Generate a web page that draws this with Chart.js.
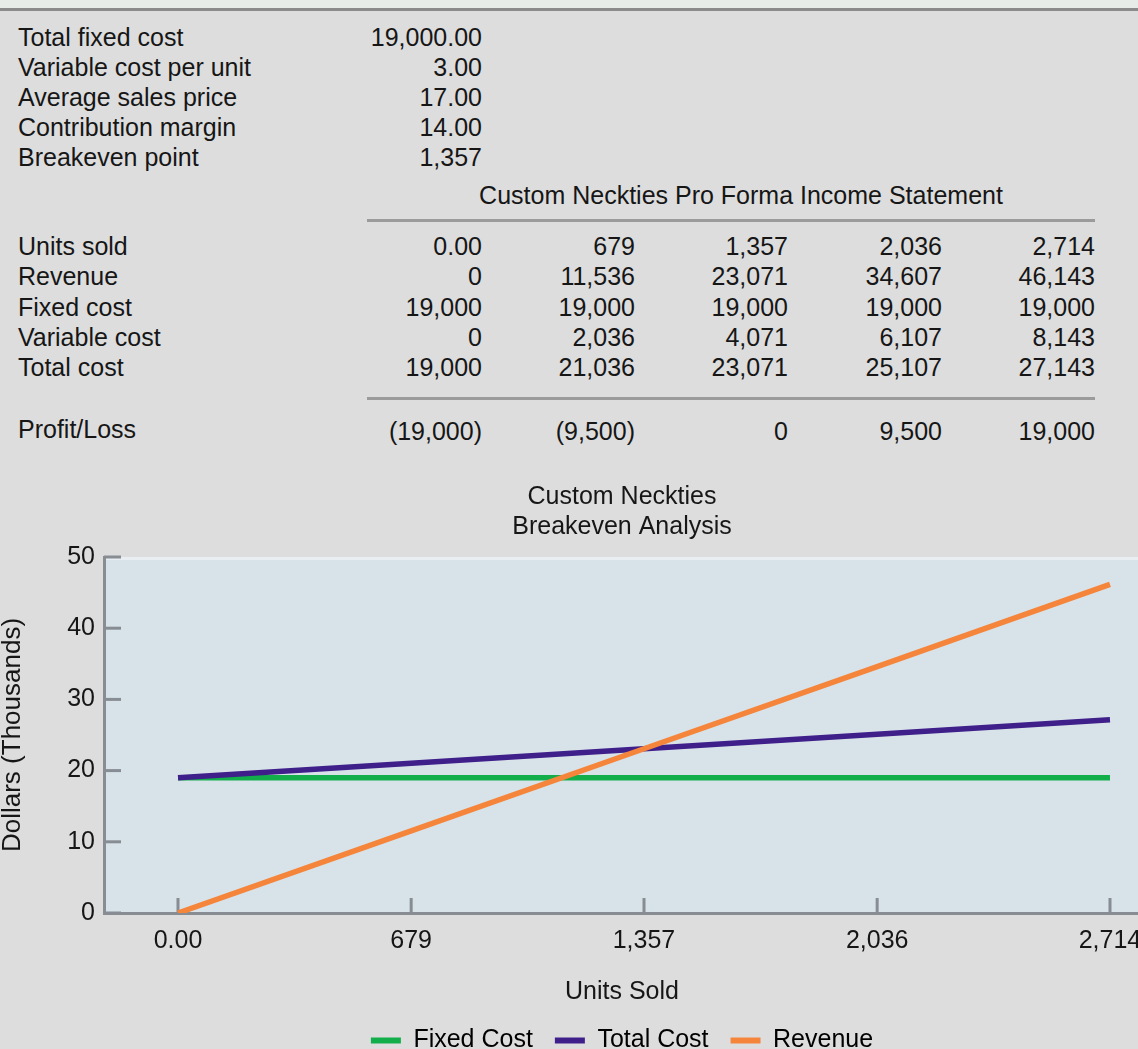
<!DOCTYPE html>
<html>
<head>
<meta charset="utf-8">
<title>Custom Neckties Breakeven Analysis</title>
<script src="https://cdn.jsdelivr.net/npm/chart.js@4/dist/chart.umd.min.js"></script>
<style>
  html, body { margin: 0; padding: 0; background: #dddddd; width: 1138px; height: 1049px; overflow: hidden; }
  #page { position: relative; width: 1138px; height: 1049px; font-family: "Liberation Sans", Arial, sans-serif; font-size: 25px; color: #161616; }
  #topband { position: absolute; left: 0; top: 0; width: 1138px; height: 8px; background: #e8ece8; }
  #topline { position: absolute; left: 0; top: 8px; width: 1138px; height: 3px; background: #8b8b8b; }
  .cell { position: absolute; white-space: nowrap; line-height: 30px; height: 30px; }
  .rule { position: absolute; height: 3px; background: #9b9b9b; }
  #chart { position: absolute; left: 0; top: 465px; }
</style>
</head>
<body>
<div id="page">
  <div id="topband"></div>
  <div id="topline"></div>
  <canvas id="chart" width="1240" height="598"></canvas>
</div>
<script>
// ---- Inputs ----
const inputLabels = ["Total fixed cost", "Variable cost per unit", "Average sales price", "Contribution margin", "Breakeven point"];
const inputValues = [19000, 3, 17, 14, 1357];
const inputDecimals = [2, 2, 2, 2, 0];

// ---- Pro forma income statement ----
const statementTitle = "Custom Neckties Pro Forma Income Statement";
const unitsSold = [0, 679, 1357, 2036, 2714];
const unitLabels = ["0.00", "679", "1,357", "2,036", "2,714"];
const revenue = [0, 11536, 23071, 34607, 46143];
const fixedCost = [19000, 19000, 19000, 19000, 19000];
const variableCost = [0, 2036, 4071, 6107, 8143];
const totalCost = [19000, 21036, 23071, 25107, 27143];
const profitLoss = [-19000, -9500, 0, 9500, 19000];

// ---- Chart text ----
const chartTitle = ["Custom Neckties", "Breakeven Analysis"];
const xTitle = "Units Sold";
const yTitle = "Dollars (Thousands)";
const seriesNames = ["Fixed Cost", "Total Cost", "Revenue"];
const seriesColors = ["#12ae4b", "#3f1f89", "#f5853a"];
const yTicks = [0, 10, 20, 30, 40, 50];

// ---- Table drawing ----
const page = document.getElementById('page');
const fmt = n => n < 0 ? '(' + Math.abs(n).toLocaleString('en-US') + ')' : n.toLocaleString('en-US');

function addText(txt, x, cy, align) {
  const d = document.createElement('div');
  d.className = 'cell';
  d.textContent = txt;
  d.style.top = (cy - 15) + 'px';
  if (align === 'right') {
    d.style.right = (1138 - x) + 'px';
  } else if (align === 'center') {
    d.style.left = (x - 400) + 'px';
    d.style.width = '800px';
    d.style.textAlign = 'center';
  } else {
    d.style.left = x + 'px';
  }
  page.appendChild(d);
}
function addRule(x1, x2, y) {
  const r = document.createElement('div');
  r.className = 'rule';
  r.style.left = x1 + 'px';
  r.style.width = (x2 - x1) + 'px';
  r.style.top = y + 'px';
  page.appendChild(r);
}

const labelX = 18;
const colRight = [482, 635, 788, 942, 1095];

inputLabels.forEach((lab, i) => {
  const cy = 37 + 30 * i;
  addText(lab, labelX, cy, 'left');
  addText(inputValues[i].toLocaleString('en-US', {minimumFractionDigits: inputDecimals[i], maximumFractionDigits: inputDecimals[i]}), colRight[0], cy, 'right');
});

addText(statementTitle, 741, 195, 'center');
addRule(367, 1095, 219);

const statementRows = [
  ["Units sold", unitLabels],
  ["Revenue", revenue.map(fmt)],
  ["Fixed cost", fixedCost.map(fmt)],
  ["Variable cost", variableCost.map(fmt)],
  ["Total cost", totalCost.map(fmt)]
];
statementRows.forEach((row, r) => {
  const cy = 246 + 30.3 * r;
  addText(row[0], labelX, cy, 'left');
  row[1].forEach((v, c) => addText(v, colRight[c], cy, 'right'));
});
addRule(367, 1095, 397);
addText("Profit/Loss", labelX, 429, 'left');
profitLoss.forEach((v, c) => addText(fmt(v), colRight[c], 431, 'right'));

// ---- Chart ----
Chart.defaults.font.family = '"Liberation Sans", Arial, sans-serif';
Chart.defaults.font.size = 25;
Chart.defaults.color = '#161616';

const toPoints = arr => unitsSold.map((u, i) => ({x: u, y: arr[i] / 1000}));

// light blue plot panel behind the lines
const plotPanel = {
  id: 'plotPanel',
  beforeDraw(chart) {
    const {ctx, chartArea: a} = chart;
    ctx.save();
    ctx.fillStyle = '#d8e2e9';
    ctx.fillRect(a.left, a.top, a.right - a.left, a.bottom - a.top);
    ctx.fillStyle = '#e8eef2';
    ctx.fillRect(a.left, a.top, a.right - a.left, 3);
    ctx.restore();
  }
};

// tick marks pointing into the plot
const innerTicks = {
  id: 'innerTicks',
  beforeDatasetsDraw(chart) {
    const {ctx, chartArea: a, scales: {x, y}} = chart;
    ctx.save();
    ctx.strokeStyle = '#878d92';
    ctx.lineWidth = 3;
    x.ticks.forEach(t => {
      const px = x.getPixelForValue(t.value);
      ctx.beginPath(); ctx.moveTo(px, a.bottom); ctx.lineTo(px, a.bottom - 15); ctx.stroke();
    });
    y.ticks.forEach(t => {
      const py = y.getPixelForValue(t.value);
      ctx.beginPath(); ctx.moveTo(a.left, py); ctx.lineTo(a.left + 17, py); ctx.stroke();
    });
    ctx.restore();
  }
};

const series = [fixedCost, totalCost, revenue];
new Chart(document.getElementById('chart'), {
  type: 'line',
  data: {
    datasets: series.map((arr, i) => ({
      label: seriesNames[i],
      data: toPoints(arr),
      borderColor: seriesColors[i],
      backgroundColor: seriesColors[i],
      borderWidth: 5.5,
      pointRadius: 0,
      tension: 0,
      order: 3 - i
    }))
  },
  options: {
    responsive: false,
    animation: false,
    layout: { padding: { left: 0, right: 100, top: 0, bottom: 0 } },
    plugins: {
      tooltip: { enabled: false },
      title: {
        display: true,
        fullSize: false,
        text: chartTitle,
        font: { size: 25, weight: 'normal', lineHeight: 1.2 },
        color: '#161616',
        padding: { top: 17, bottom: 15 }
      },
      legend: {
        position: 'bottom',
        fullSize: false,
        labels: {
          boxWidth: 30,
          boxHeight: 6,
          padding: 22,
          font: { size: 25 },
          color: '#161616',
          sort: (a, b) => a.datasetIndex - b.datasetIndex,
          generateLabels(chart) {
            return chart.data.datasets.map((ds, i) => ({
              text: ds.label,
              fillStyle: ds.borderColor,
              strokeStyle: ds.borderColor,
              lineWidth: 0,
              hidden: false,
              datasetIndex: i
            }));
          }
        }
      }
    },
    scales: {
      x: {
        type: 'linear',
        min: -215.5,
        max: 2801.4,
        afterBuildTicks: s => { s.ticks = unitsSold.map(v => ({value: v})); },
        afterFit: s => { s.height = 93; },
        ticks: {
          autoSkip: false,
          maxRotation: 0,
          padding: 13,
          color: '#161616',
          callback: (v, i) => unitLabels[i]
        },
        grid: { drawOnChartArea: false, drawTicks: false },
        border: { display: true, color: '#878d92', width: 3 },
        title: { display: true, text: xTitle, color: '#161616', font: { size: 25, lineHeight: 1.1 }, padding: { top: 0, bottom: 0 } }
      },
      y: {
        type: 'linear',
        min: 0,
        max: 50,
        afterBuildTicks: s => { s.ticks = yTicks.map(v => ({value: v})); },
        afterFit: s => { s.width = 104; },
        ticks: { padding: 9, color: '#161616' },
        grid: { drawOnChartArea: false, drawTicks: false },
        border: { display: true, color: '#878d92', width: 3 },
        title: { display: true, text: yTitle, color: '#161616', font: { size: 26, lineHeight: 1 }, padding: 0 }
      }
    }
  },
  plugins: [plotPanel, innerTicks]
});
</script>
</body>
</html>
